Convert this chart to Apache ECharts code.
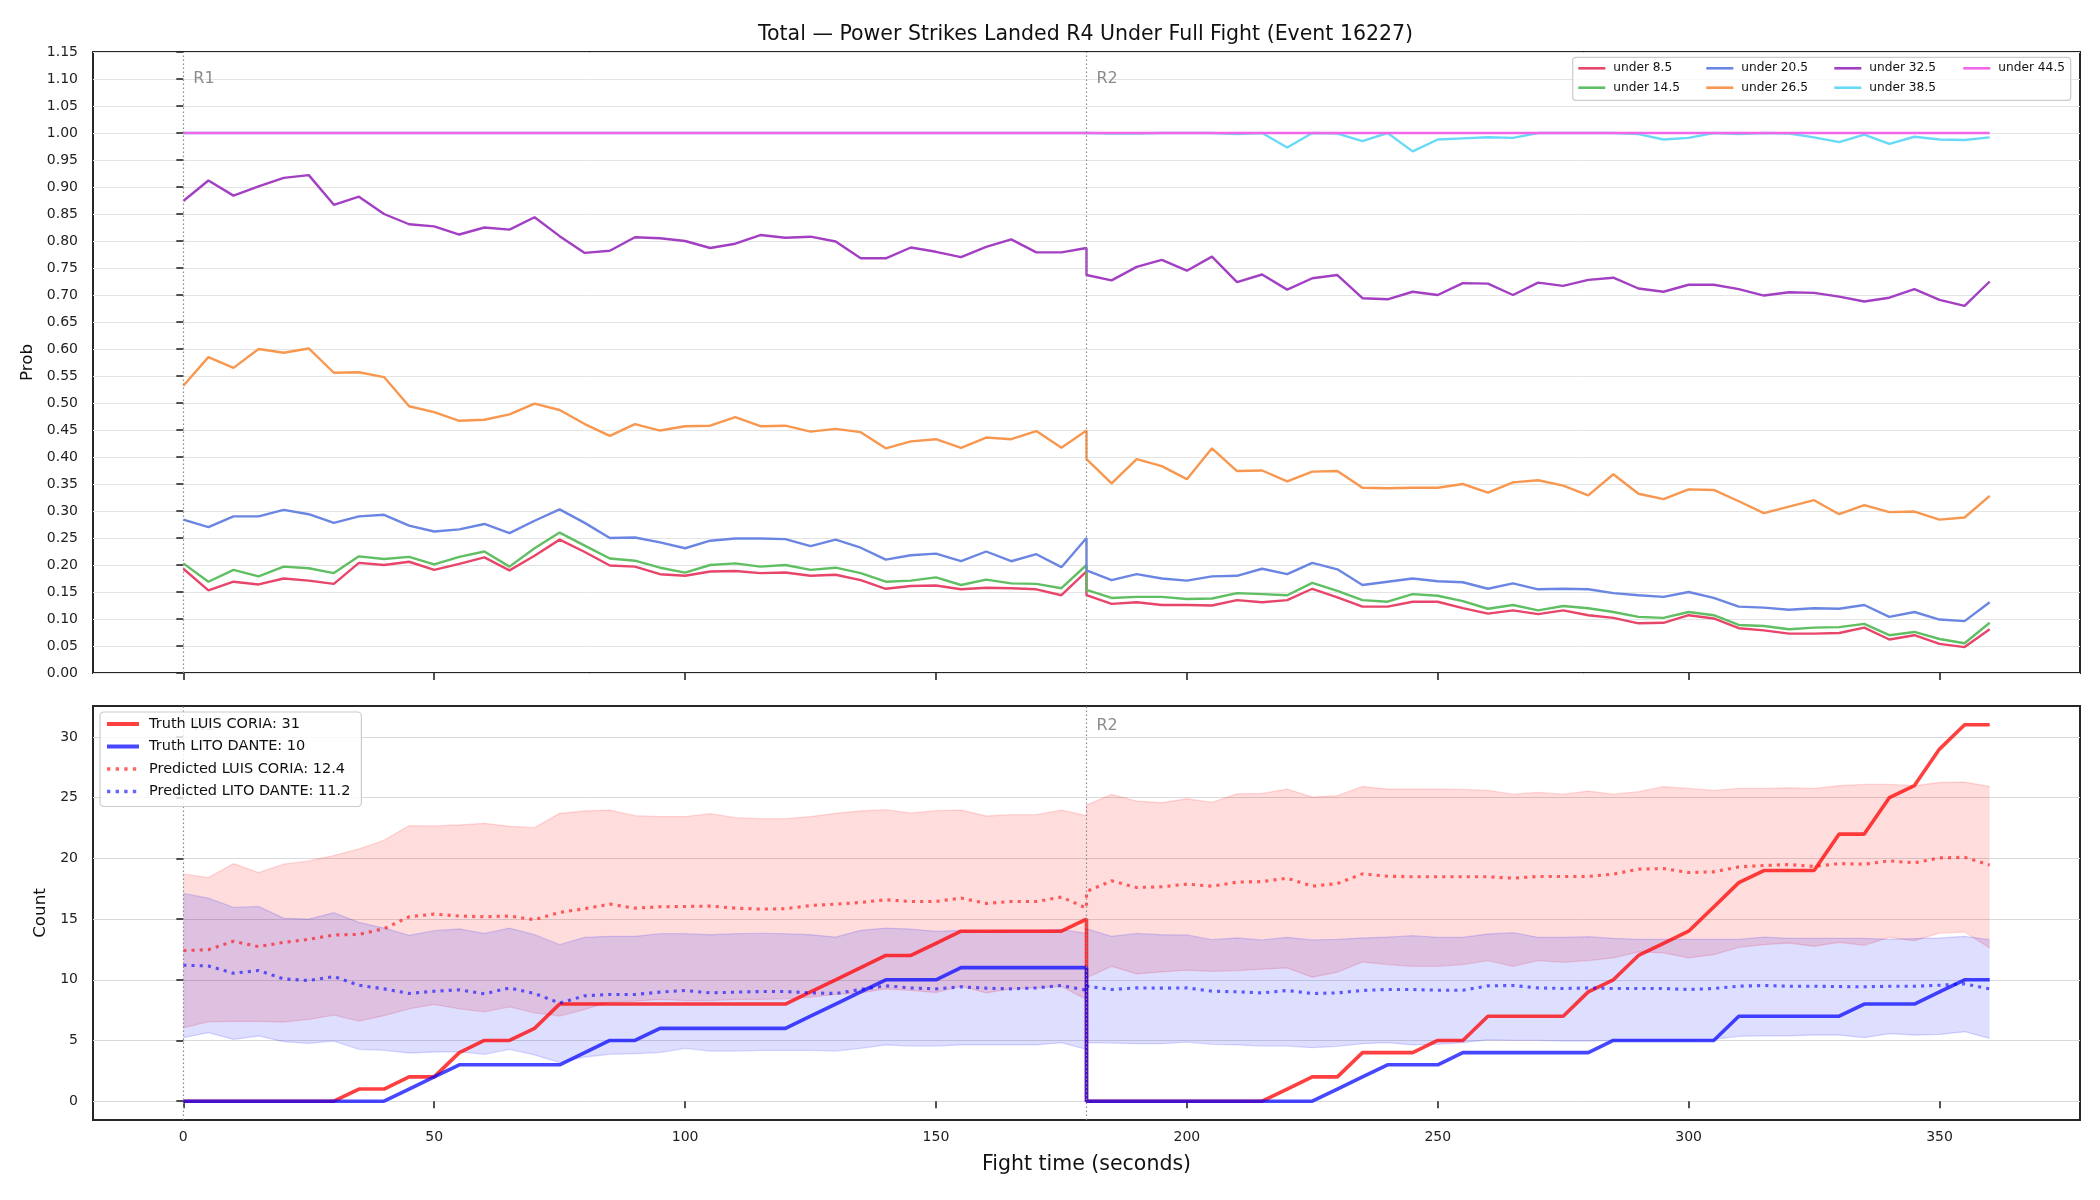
<!DOCTYPE html>
<html>
<head>
<meta charset="utf-8">
<script src="https://cdn.jsdelivr.net/npm/echarts@6/dist/echarts.min.js"></script>
<style>html,body{margin:0;padding:0;background:#fff}#chart{width:2100px;height:1200px}</style>
</head>
<body>
<div id="chart"></div>
<script>
// ---------- data ----------
const time = [0,5,10,15,20,25,30,35,40,45,50,55,60,65,70,75,80,85,90,95,100,105,110,115,120,125,130,135,140,145,150,155,160,165,170,175,180,
              180,185,190,195,200,205,210,215,220,225,230,235,240,245,250,255,260,265,270,275,280,285,290,295,300,305,310,315,320,325,330,335,340,345,350,355,360];

const lineNames = ['under 8.5','under 14.5','under 20.5','under 26.5','under 32.5','under 38.5','under 44.5'];

const under85 = [0.193,0.153,0.169,0.164,0.175,0.171,0.165,0.204,0.200,0.206,0.191,0.202,0.214,0.190,0.217,0.247,0.224,0.199,0.197,0.183,0.180,0.188,0.189,0.185,0.186,0.180,0.182,0.172,0.156,0.161,0.162,0.155,0.158,0.157,0.155,0.144,0.188,
  0.144,0.128,0.131,0.126,0.126,0.125,0.135,0.131,0.135,0.156,0.140,0.123,0.123,0.132,0.132,0.120,0.110,0.116,0.109,0.116,0.107,0.102,0.092,0.093,0.107,0.101,0.083,0.079,0.073,0.073,0.074,0.084,0.062,0.070,0.054,0.048,0.081];
const under145 = [0.203,0.169,0.191,0.179,0.197,0.194,0.185,0.216,0.211,0.215,0.201,0.215,0.225,0.197,0.231,0.260,0.236,0.212,0.208,0.195,0.186,0.200,0.203,0.197,0.200,0.191,0.195,0.185,0.169,0.171,0.177,0.163,0.173,0.166,0.165,0.157,0.200,
  0.154,0.139,0.141,0.141,0.137,0.138,0.148,0.146,0.144,0.167,0.152,0.135,0.132,0.146,0.143,0.133,0.119,0.126,0.116,0.124,0.120,0.113,0.104,0.102,0.113,0.107,0.089,0.087,0.081,0.084,0.085,0.091,0.070,0.076,0.063,0.055,0.093];
const under205 = [0.284,0.270,0.290,0.290,0.302,0.294,0.278,0.290,0.293,0.273,0.262,0.266,0.276,0.259,0.282,0.303,0.278,0.250,0.251,0.242,0.231,0.245,0.249,0.249,0.248,0.235,0.247,0.232,0.210,0.218,0.221,0.207,0.225,0.207,0.220,0.196,0.250,
  0.190,0.172,0.183,0.175,0.171,0.179,0.180,0.193,0.183,0.204,0.192,0.163,0.169,0.175,0.170,0.168,0.156,0.166,0.155,0.156,0.155,0.148,0.144,0.141,0.150,0.139,0.123,0.121,0.117,0.120,0.119,0.126,0.104,0.113,0.099,0.096,0.131];
const under265 = [0.532,0.585,0.565,0.600,0.593,0.601,0.556,0.557,0.548,0.494,0.483,0.467,0.469,0.479,0.499,0.487,0.461,0.439,0.461,0.449,0.457,0.458,0.474,0.457,0.458,0.447,0.452,0.446,0.416,0.429,0.433,0.417,0.436,0.433,0.448,0.417,0.449,
  0.396,0.351,0.396,0.383,0.359,0.416,0.374,0.375,0.355,0.373,0.374,0.343,0.342,0.343,0.343,0.350,0.334,0.353,0.357,0.347,0.329,0.368,0.332,0.322,0.340,0.339,0.318,0.296,0.308,0.320,0.294,0.311,0.298,0.299,0.284,0.288,0.328];
const under325 = [0.874,0.912,0.884,0.901,0.917,0.922,0.867,0.882,0.850,0.831,0.827,0.812,0.825,0.821,0.844,0.809,0.778,0.782,0.807,0.805,0.800,0.787,0.795,0.811,0.806,0.808,0.799,0.768,0.768,0.788,0.780,0.770,0.789,0.803,0.779,0.779,0.787,
  0.737,0.727,0.752,0.765,0.745,0.771,0.724,0.738,0.710,0.731,0.737,0.694,0.692,0.706,0.700,0.722,0.721,0.700,0.723,0.717,0.728,0.732,0.712,0.706,0.719,0.719,0.711,0.699,0.705,0.704,0.697,0.688,0.695,0.711,0.691,0.680,0.725];
const under385 = [1,1,1,1,1,1,1,1,1,1,1,1,1,1,1,1,1,1,1,1,1,1,1,1,1,1,1,1,1,1,1,1,1,1,1,1,1,
  1.0,0.999,0.999,1.0,1.0,1.0,0.998,1.0,0.973,1.0,0.999,0.985,1.0,0.966,0.988,0.990,0.992,0.991,1.0,1.0,1.0,1.0,0.998,0.988,0.991,1.0,0.998,1.0,0.999,0.992,0.983,0.997,0.980,0.993,0.988,0.987,0.992];
const under445 = [1,1,1,1,1,1,1,1,1,1,1,1,1,1,1,1,1,1,1,1,1,1,1,1,1,1,1,1,1,1,1,1,1,1,1,1,1,
  1,1,1,1,1,1,1,1,1,1,1,1,1,1,1,1,1,1,1,1,1,1,1,1,1,1,1,1,1,1,1,1,1,1,1,1,1];

const countNames = ['Truth LUIS CORIA: 31','Truth LITO DANTE: 10','Predicted LUIS CORIA: 12.4','Predicted LITO DANTE: 11.2'];

const truthCoria = [0,0,0,0,0,0,0,1,1,2,2,4,5,5,6,8,8,8,8,8,8,8,8,8,8,9,10,11,12,12,13,14,14,14,14,14,15,
  0,0,0,0,0,0,0,0,1,2,2,4,4,4,5,5,7,7,7,7,9,10,12,13,14,16,18,19,19,19,22,22,25,26,29,31,31];
const truthDante = [0,0,0,0,0,0,0,0,0,1,2,3,3,3,3,3,4,5,5,6,6,6,6,6,6,7,8,9,10,10,10,11,11,11,11,11,11,
  0,0,0,0,0,0,0,0,0,0,1,2,3,3,3,4,4,4,4,4,4,5,5,5,5,5,7,7,7,7,7,8,8,8,9,10,10];
const predCoria = [12.4,12.48,13.17,12.73,13.08,13.33,13.69,13.74,14.21,15.19,15.41,15.25,15.19,15.25,14.95,15.55,15.85,16.23,15.90,16.01,16.04,16.07,15.90,15.82,15.85,16.12,16.23,16.37,16.59,16.45,16.45,16.73,16.29,16.45,16.45,16.81,15.90,
  17.27,18.15,17.60,17.66,17.88,17.71,18.04,18.09,18.37,17.71,17.93,18.72,18.53,18.48,18.48,18.48,18.48,18.37,18.51,18.51,18.51,18.70,19.11,19.16,18.83,18.89,19.30,19.41,19.49,19.33,19.57,19.52,19.79,19.63,20.04,20.09,19.46];
const predDante = [11.2,11.14,10.54,10.76,10.07,9.94,10.27,9.55,9.25,8.87,9.06,9.17,8.84,9.33,8.87,8.08,8.68,8.79,8.79,8.98,9.12,8.92,8.98,9.03,9.03,8.92,8.87,9.20,9.50,9.33,9.25,9.42,9.31,9.25,9.33,9.53,9.14,
  9.47,9.20,9.33,9.31,9.33,9.06,9.01,8.92,9.12,8.87,8.92,9.12,9.20,9.20,9.14,9.14,9.50,9.53,9.33,9.28,9.33,9.28,9.28,9.28,9.20,9.28,9.47,9.53,9.47,9.47,9.44,9.42,9.47,9.47,9.55,9.66,9.25];
const coriaHi = [18.72,18.42,19.57,18.83,19.52,19.79,20.23,20.78,21.49,22.69,22.67,22.75,22.89,22.64,22.53,23.71,23.90,23.98,23.52,23.44,23.44,23.68,23.35,23.27,23.27,23.44,23.71,23.90,24.01,23.73,23.93,23.98,23.49,23.60,23.60,23.98,23.52,
  24.39,25.27,24.72,24.58,24.91,24.61,25.32,25.35,25.71,25.05,25.16,25.92,25.71,25.71,25.71,25.68,25.60,25.29,25.43,25.29,25.54,25.29,25.49,25.90,25.76,25.60,25.76,25.76,25.81,25.76,25.98,26.09,26.09,25.98,26.25,26.28,25.92];
const coriaLo = [6.05,6.54,6.57,6.57,6.52,6.73,7.09,6.60,7.04,7.61,7.97,7.61,7.36,7.77,7.28,7.01,7.56,8.16,8.24,8.38,8.29,8.29,8.38,8.38,8.43,8.57,8.79,8.92,9.25,9.12,8.95,9.47,8.92,9.25,9.33,9.44,8.38,
  10.16,11.11,10.48,10.65,10.79,10.70,10.76,10.87,10.98,10.21,10.62,11.47,11.25,11.11,11.11,11.25,11.58,11.11,11.58,11.44,11.58,11.80,12.29,12.21,11.80,12.07,12.67,12.89,13.03,12.76,13.09,12.84,13.50,13.22,13.85,13.93,12.62];
const danteHi = [17.11,16.73,15.96,16.04,15.08,15.00,15.52,14.73,14.26,13.66,14.04,14.18,13.82,14.26,13.71,12.89,13.50,13.58,13.58,13.80,13.80,13.71,13.80,13.82,13.80,13.71,13.52,14.07,14.26,14.18,13.99,14.07,13.99,14.07,14.07,14.15,13.82,
  14.21,13.58,13.82,13.71,13.69,13.30,13.44,13.28,13.50,13.28,13.33,13.44,13.52,13.63,13.50,13.50,13.77,13.88,13.50,13.50,13.55,13.41,13.33,13.33,13.33,13.33,13.33,13.52,13.41,13.41,13.41,13.41,13.33,13.39,13.44,13.58,13.30];
const danteLo = [5.23,5.64,5.09,5.37,4.90,4.76,4.95,4.27,4.19,3.97,4.05,4.08,3.86,4.27,3.81,3.18,3.64,3.86,3.91,4.00,4.35,4.13,4.13,4.19,4.19,4.19,4.13,4.35,4.63,4.54,4.54,4.63,4.63,4.63,4.63,4.82,4.27,
  4.82,4.79,4.74,4.74,4.87,4.68,4.63,4.54,4.54,4.41,4.52,4.74,4.82,4.63,4.68,4.82,5.06,5.01,5.01,4.95,4.95,5.01,5.01,5.01,5.01,5.09,5.34,5.39,5.39,5.45,5.45,5.23,5.56,5.45,5.50,5.72,5.17];

const xTicks = [0,50,100,150,200,250,300,350];
const countTicks = [0,5,10,15,20,25,30];
const roundStarts = [0,180];
const roundLabels = ['R1','R2'];

// ---------- chart ----------
const FONT = 'DejaVu Sans';
const pts = arr => time.map((t,i) => [t, arr[i]]);

const probColors = ['#e8456a','#5fbf62','#6a86e2','#f8974f','#a33fc2','#68daf8','#f266ea'];
const probSeries = [under85, under145, under205, under265, under325, under385, under445].map((arr, k) => ({
  name: lineNames[k], type: 'line', xAxisIndex: 0, yAxisIndex: 0, data: pts(arr),
  symbol: 'none', lineStyle: {color: probColors[k], width: 2.4}, itemStyle: {color: probColors[k], opacity: 0}, z: 3
}));

function bandSeries(name, lo, hi, fill, edge) {
  return {
    name: name, type: 'custom', xAxisIndex: 1, yAxisIndex: 1, silent: true, z: 1, clip: true,
    data: time.map((t, i) => [t, lo[i], hi[i]]),
    encode: {x: 0, y: [1, 2]},
    renderItem: (params, api) => {
      if (params.dataIndex !== 0) return null;
      const upper = [], lower = [];
      for (let i = 0; i < time.length; i++) {
        upper.push(api.coord([time[i], hi[i]]));
        lower.push(api.coord([time[i], lo[i]]));
      }
      return {type: 'group', children: [
        {type: 'polygon', shape: {points: upper.concat(lower.slice().reverse())}, style: {fill: fill, stroke: null}},
        {type: 'polyline', shape: {points: upper}, style: {stroke: edge, lineWidth: 1.3, fill: null}},
        {type: 'polyline', shape: {points: lower}, style: {stroke: edge, lineWidth: 1.3, fill: null}}
      ]};
    }
  };
}

const gridLineTop = {show: true, lineStyle: {color: '#e4e4e4', width: 1}};
const gridLineBot = {show: true, lineStyle: {color: '#d9d9d9', width: 1}};
const tick = {show: true, inside: false, length: 7, lineStyle: {color: '#262626', width: 1.6}};

function roundMarker(xi, yi, yVal) {
  return {
    type: 'scatter', xAxisIndex: xi, yAxisIndex: yi, symbolSize: 0, silent: true,
    data: roundStarts.map((x, i) => ({name: roundLabels[i], value: [x, yVal]})),
    label: {show: true, formatter: '{b}', position: 'right', distance: 10, color: '#6e6e6e', fontSize: 16, fontFamily: FONT},
    markLine: {silent: true, symbol: ['none','none'], label: {show: false},
      lineStyle: {type: [1.5, 2.5], color: '#8a8a8a', width: 1.2},
      data: roundStarts.map(x => ({xAxis: x}))},
    z: 2
  };
}

const option = {
  animation: false,
  backgroundColor: '#ffffff',
  textStyle: {fontFamily: FONT},
  title: {text: 'Total — Power Strikes Landed R4 Under Full Fight (Event 16227)', left: 753, top: 19,
    textStyle: {fontSize: 20.5, fontWeight: 'normal', color: '#111', fontFamily: FONT}},
  grid: [
    {left: 93, top: 52, width: 1987, height: 621, show: true, borderColor: '#262626', borderWidth: 2, backgroundColor: 'transparent'},
    {left: 93, top: 706, width: 1987, height: 414, show: true, borderColor: '#262626', borderWidth: 2, backgroundColor: 'transparent'}
  ],
  xAxis: [
    {type: 'value', gridIndex: 0, min: -18, max: 378, axisLine: {show: false}, splitLine: {show: false},
      axisTick: Object.assign({customValues: xTicks}, tick), axisLabel: {show: false, customValues: xTicks}},
    {type: 'value', gridIndex: 1, min: -18, max: 378, axisLine: {show: false}, splitLine: {show: false},
      axisTick: Object.assign({customValues: xTicks}, tick),
      axisLabel: {customValues: xTicks, fontSize: 14, color: '#222', margin: 10, fontFamily: FONT},
      name: 'Fight time (seconds)', nameLocation: 'middle', nameGap: 34,
      nameTextStyle: {fontSize: 20.5, color: '#111', fontFamily: FONT}}
  ],
  yAxis: [
    {type: 'value', gridIndex: 0, min: 0, max: 1.15, interval: 0.05, axisLine: {show: false},
      splitLine: gridLineTop, axisTick: tick,
      axisLabel: {formatter: v => v.toFixed(2), fontSize: 14, color: '#222', margin: 15, fontFamily: FONT},
      name: 'Prob', nameLocation: 'middle', nameGap: 56, nameTextStyle: {fontSize: 16.7, color: '#111', fontFamily: FONT}},
    {type: 'value', gridIndex: 1, min: -1.55, max: 32.55, axisLine: {show: false},
      splitLine: gridLineBot, axisTick: Object.assign({customValues: countTicks}, tick),
      axisLabel: {customValues: countTicks, fontSize: 14, color: '#222', margin: 15, fontFamily: FONT},
      name: 'Count', nameLocation: 'middle', nameGap: 43, nameTextStyle: {fontSize: 16.7, color: '#111', fontFamily: FONT}}
  ],
  legend: [
    {data: [lineNames[0], lineNames[1]], left: 1577, top: 61.3},
    {data: [lineNames[2], lineNames[3]], left: 1705, top: 61.3},
    {data: [lineNames[4], lineNames[5]], left: 1833, top: 61.3},
    {data: [lineNames[6]], left: 1962, top: 61.3}
  ].map(l => Object.assign(l, {orient: 'vertical', padding: 0, itemGap: 5.4, itemWidth: 27, itemHeight: 14,
      itemStyle: {opacity: 0}, lineStyle: {width: 2.6},
      textStyle: {fontSize: 12.2, color: '#111', lineHeight: 14, padding: [0,0,0,3], fontFamily: FONT}, z: 6})).concat([
    {data: [
        {name: countNames[0], lineStyle: {width: 4}},
        {name: countNames[1], lineStyle: {width: 4}},
        {name: countNames[2], lineStyle: {width: 3.4, type: [3.4, 5.2]}},
        {name: countNames[3], lineStyle: {width: 3.4, type: [3.4, 5.2]}}
      ],
      orient: 'vertical', left: 100, top: 712, padding: [4, 11, 7, 5], itemGap: 6.5, itemWidth: 32, itemHeight: 16,
      itemStyle: {opacity: 0},
      backgroundColor: 'rgba(255,255,255,0.8)', borderColor: '#cccccc', borderWidth: 1.2, borderRadius: 4,
      textStyle: {fontSize: 14.5, color: '#111', lineHeight: 16, padding: [0,0,0,5], fontFamily: FONT}, z: 6}
  ]),
  graphic: [{type: 'rect', z: 5, shape: {x: 1572.7, y: 57.3, width: 498, height: 43, r: 3},
    style: {fill: 'rgba(255,255,255,0.8)', stroke: '#cccccc', lineWidth: 1.2}}],
  series: [
    roundMarker(0, 0, 1.10),
    roundMarker(1, 1, 30.9),
    ...probSeries,
    bandSeries('coriaBand', coriaLo, coriaHi, 'rgba(255,0,0,0.135)', 'rgba(255,0,0,0.14)'),
    bandSeries('danteBand', danteLo, danteHi, 'rgba(0,0,255,0.13)', 'rgba(0,0,255,0.14)'),
    {name: countNames[0], type: 'line', xAxisIndex: 1, yAxisIndex: 1, data: pts(truthCoria), symbol: 'none',
      lineStyle: {color: 'rgba(255,0,0,0.75)', width: 3.6}, itemStyle: {color: 'rgba(255,0,0,0.75)', opacity: 0}, z: 3},
    {name: countNames[1], type: 'line', xAxisIndex: 1, yAxisIndex: 1, data: pts(truthDante), symbol: 'none',
      lineStyle: {color: 'rgba(0,0,255,0.72)', width: 3.6}, itemStyle: {color: 'rgba(0,0,255,0.72)', opacity: 0}, z: 3},
    {name: countNames[2], type: 'line', xAxisIndex: 1, yAxisIndex: 1, data: pts(predCoria), symbol: 'none',
      lineStyle: {color: 'rgba(255,0,0,0.6)', width: 3.1, type: [3.1, 5.1], cap: 'butt'}, itemStyle: {color: 'rgba(255,0,0,0.6)', opacity: 0}, z: 3},
    {name: countNames[3], type: 'line', xAxisIndex: 1, yAxisIndex: 1, data: pts(predDante), symbol: 'none',
      lineStyle: {color: 'rgba(0,0,255,0.6)', width: 3.1, type: [3.1, 5.1], cap: 'butt'}, itemStyle: {color: 'rgba(0,0,255,0.6)', opacity: 0}, z: 3}
  ]
};

const chart = echarts.init(document.getElementById('chart'), null, {renderer: 'canvas'});
chart.setOption(option);
</script>
</body>
</html>
